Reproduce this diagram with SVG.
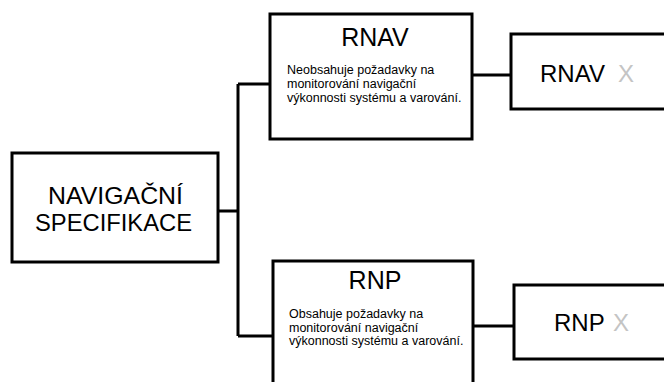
<svg xmlns="http://www.w3.org/2000/svg" width="664" height="382" viewBox="0 0 664 382">
<style>
.box{fill:#fff;stroke:#000;stroke-width:3}
.ln{fill:none;stroke:#000;stroke-width:3}
text{font-family:"Liberation Sans",Arial,sans-serif;fill:#000}
.big{font-size:24px}
.ttl{font-size:25px;text-anchor:middle}
.body{font-size:12.5px}
.lbl{font-size:24px}
.gx{fill:#c4c4c4}
</style>
<rect width="664" height="382" fill="#fff"/>
<g id="connectors">
<path class="ln" d="M218 211H238M238 84V336M238 84H270M238 336H273M472 75H511M473 326H514"/>
</g>
<g id="navigacni">
<rect class="box" x="12" y="153" width="206" height="109"/>
<text class="big" x="115.5" y="204" text-anchor="middle" textLength="135" lengthAdjust="spacingAndGlyphs">NAVIGAČNÍ</text>
<text class="big" x="113.5" y="231" text-anchor="middle" textLength="157" lengthAdjust="spacingAndGlyphs">SPECIFIKACE</text>
</g>
<g id="rnav">
<rect class="box" x="270" y="14" width="202" height="125"/>
<text class="ttl" x="375" y="46">RNAV</text>
<text class="body" x="287" y="74">Neobsahuje požadavky na</text>
<text class="body" x="287" y="88">monitorování navigační</text>
<text class="body" x="287" y="102">výkonnosti systému a varování.</text>
</g>
<g id="rnp">
<rect class="box" x="273" y="261" width="200" height="130"/>
<text class="ttl" x="375" y="289">RNP</text>
<text class="body" x="289" y="318">Obsahuje požadavky na</text>
<text class="body" x="289" y="332">monitorování navigační</text>
<text class="body" x="289" y="345">výkonnosti systému a varování.</text>
</g>
<g id="rnavx">
<rect class="box" x="511" y="34" width="170" height="75"/>
<text class="lbl" x="540" y="82">RNAV</text>
<text class="lbl gx" x="618" y="82">X</text>
</g>
<g id="rnpx">
<rect class="box" x="514" y="285" width="170" height="74"/>
<text class="lbl" x="554" y="331">RNP</text>
<text class="lbl gx" x="613" y="331">X</text>
</g>
</svg>
